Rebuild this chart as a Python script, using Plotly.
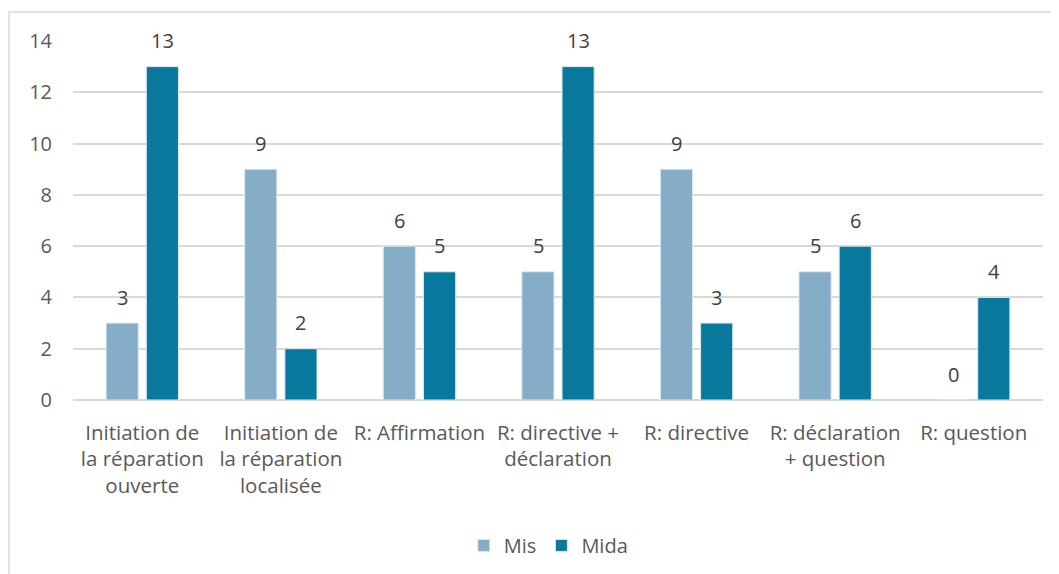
import plotly.graph_objects as go

# Données du graphique
categories = [
    "Initiation de<br>la réparation<br>ouverte",
    "Initiation de<br>la réparation<br>localisée",
    "R: Affirmation",
    "R: directive +<br>déclaration",
    "R: directive",
    "R: déclaration<br>+ question",
    "R: question",
]
mis = [3, 9, 6, 5, 9, 5, 0]
mida = [13, 2, 5, 13, 3, 6, 4]

FONT = "Open Sans, Liberation Sans, sans-serif"
TXT = "#595959"

fig = go.Figure()
fig.add_trace(go.Bar(
    name="Mis", x=categories, y=mis,
    marker=dict(color="#86ADC8", line=dict(color="#DCE8F0", width=1)),
))
fig.add_trace(go.Bar(
    name="Mida", x=categories, y=mida,
    marker=dict(color="#08789C", line=dict(color="#DCE8F0", width=1)),
))

# la page a une marge de 8 px autour de la figure
OFF = 8
W, H = 1059 - OFF, 574 - OFF
L, T = 73 - OFF, 41 - OFF
R = W - L - 970
B = H - T - 359
pw, ph = W - L - R, H - T - B

# étiquettes de valeurs au-dessus des barres
annots = []
for i, cat in enumerate(categories):
    for val, shift in ((mis[i], -20), (mida[i], 20)):
        annots.append(dict(
            x=cat, y=val, xref="x", yref="y", text=str(val), showarrow=False,
            xshift=shift, yshift=26, yanchor="middle",
            font=dict(size=20, color="#404040"),
        ))

fig.update_layout(
    width=W, height=H,
    margin=dict(l=L, r=R, t=T, b=B, autoexpand=False),
    paper_bgcolor="white", plot_bgcolor="white",
    barmode="group", bargap=0.42, bargroupgap=0.2,
    font=dict(family=FONT, size=20, color=TXT),
    showlegend=True,
    legend=dict(orientation="h", x=0.49, xanchor="center", y=-0.405, yanchor="middle",
                font=dict(size=20, color=TXT), bgcolor="rgba(0,0,0,0)", itemwidth=30),
    xaxis=dict(showgrid=False, showline=False, ticks="", tickfont=dict(size=20.5, color=TXT),
               tickangle=0, automargin=False, ticklabelstandoff=18),
    yaxis=dict(range=[0, 14], dtick=2, showgrid=True, gridcolor="#D9D9D9", gridwidth=1.5,
               zeroline=True, zerolinecolor="#D9D9D9", zerolinewidth=1.5, automargin=False,
               ticks="", tickfont=dict(size=20, color=TXT), ticklabelstandoff=20),
    annotations=annots,
    shapes=[dict(
        type="rect", xref="paper", yref="paper",
        x0=(9 - OFF - L) / pw, x1=(1075 - OFF - L) / pw,
        y0=(H - B - (590 - OFF)) / ph, y1=(H - B - (12 - OFF)) / ph,
        line=dict(color="#D9D9D9", width=1.5), fillcolor="rgba(0,0,0,0)", layer="below",
    )],
)

fig.write_html("out.html")
